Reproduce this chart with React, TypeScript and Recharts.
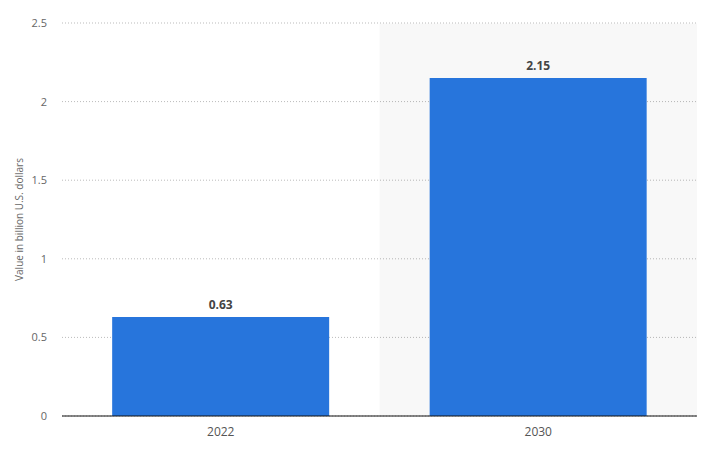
import React from 'react';
import { BarChart, Bar, XAxis, YAxis, CartesianGrid, Tooltip, LabelList } from 'recharts';

const years = ['2022', '2030'];
const values = [0.63, 2.15];
const yTicks = [0, 0.5, 1, 1.5, 2, 2.5];

const data = years.map((year, i) => ({ year, value: values[i] }));

const FONT = '"Open Sans", "Noto Sans", sans-serif';

const AxisTitle = ({ viewBox }: any) => {
  const cy = viewBox.y + viewBox.height / 2;
  return (
    <text
      x={19}
      y={cy}
      transform={`rotate(-90, 19, ${cy})`}
      textAnchor="middle"
      dominantBaseline="central"
      fill="#666"
      fontSize={10}
      fontFamily={FONT}
    >
      Value in billion U.S. dollars
    </text>
  );
};

const App: React.FC = () => {
  return (
    <div style={{ position: 'absolute', left: 0, top: 0, width: 713, height: 451, background: '#fff' }}>
      <BarChart
        width={713}
        height={451}
        data={data}
        margin={{ top: 23, right: 16, left: 0, bottom: 0 }}
        barCategoryGap="15.8%"
      >
        <CartesianGrid vertical={false} stroke="#bbb" strokeDasharray="1 2" />
        <XAxis
          dataKey="year"
          height={35}
          tickLine={false}
          axisLine={{ stroke: '#111', strokeWidth: 1 }}
          tick={{ fill: '#555', fontSize: 12, fontFamily: FONT }}
          tickMargin={5}
        />
        <YAxis
          width={62}
          domain={[0, 2.5]}
          ticks={yTicks}
          tickLine={false}
          axisLine={false}
          tick={{ fill: '#666', fontSize: 11, fontFamily: FONT }}
          tickMargin={9}
          label={<AxisTitle />}
        />
        <Tooltip
          defaultIndex={1}
          content={() => null}
          cursor={{ fill: '#000', fillOpacity: 0.028 }}
          isAnimationActive={false}
        />
        <Bar dataKey="value" fill="#2775dc" isAnimationActive={false}>
          <LabelList
            dataKey="value"
            position="top"
            offset={8}
            style={{ fill: '#444', fontSize: 12, fontWeight: 700, fontFamily: FONT }}
          />
        </Bar>
      </BarChart>
    </div>
  );
};

export default App;
